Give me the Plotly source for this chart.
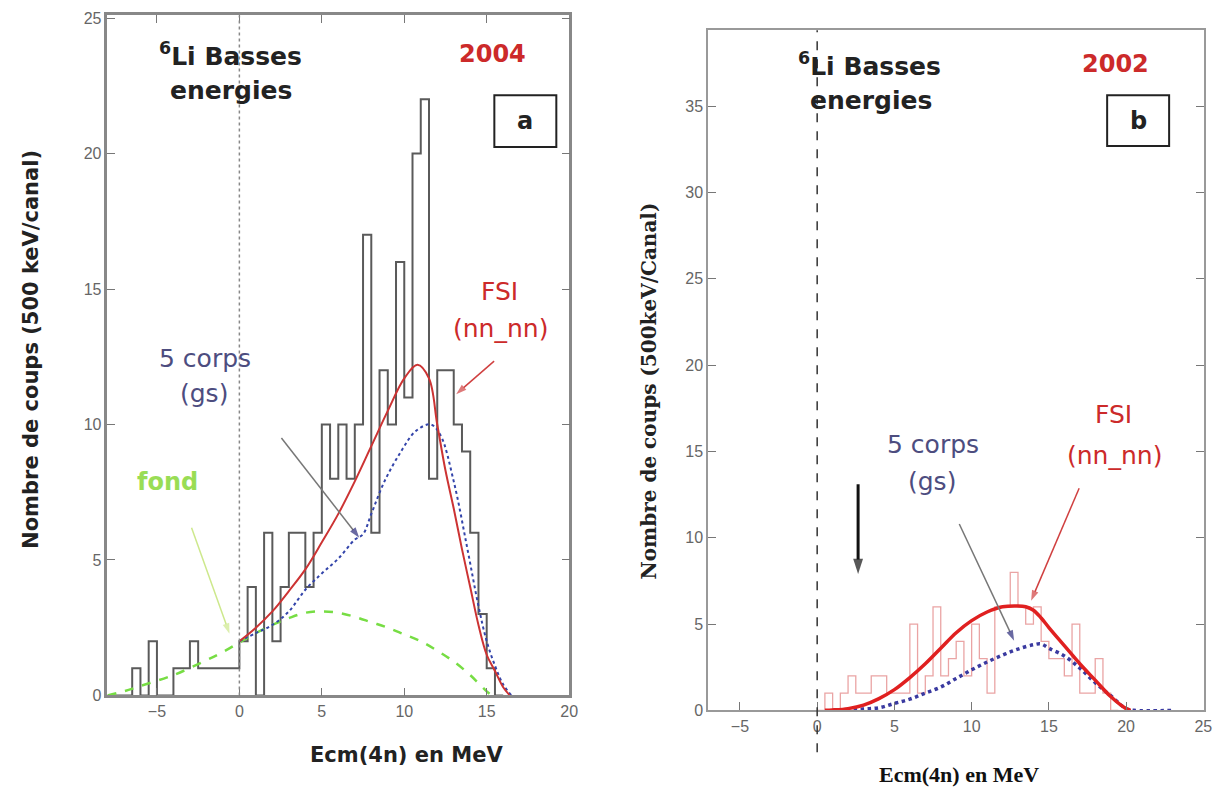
import plotly.graph_objects as go

# ---- panel a : 6Li basses energies, 2004 (500 keV / canal) ----
edges_a = [-8.0, -7.5, -7.0, -6.5, -6.0, -5.5, -5.0, -4.5, -4.0, -3.5, -3.0, -2.5,
           -2.0, -1.5, -1.0, -0.5, 0.0, 0.5, 1.0, 1.5, 2.0, 2.5, 3.0, 3.5,
           4.0, 4.5, 5.0, 5.5, 6.0, 6.5, 7.0, 7.5, 8.0, 8.5, 9.0, 9.5,
           10.0, 10.5, 11.0, 11.5, 12.0, 12.5, 13.0, 13.5, 14.0, 14.5, 15.0, 15.5, 16.0]
counts_a = [0, 0, 0, 1, 0, 2, 0, 0, 1, 1, 2, 1,
            1, 1, 1, 1, 2, 4, 0, 6, 2, 4, 6, 6,
            4, 6, 10, 8, 10, 8, 10, 17, 6, 12, 10, 16,
            11, 20, 22, 8, 12, 12, 10, 9, 6, 3, 1, 0]

fsi_a_x = [0, 1, 2, 3, 4, 5, 6, 7, 8, 9, 10, 10.8, 11.5, 12, 12.5, 13, 13.5, 14, 14.5, 15, 15.5, 16, 16.4]
fsi_a_y = [2.0, 2.5, 3.1, 3.85, 4.65, 5.65, 6.7, 7.9, 9.2, 10.5, 11.7, 12.2, 11.7, 10.0, 8.3, 6.9, 5.4, 4.0, 2.6, 1.5, 0.9, 0.3, 0]

corps_a_x = [0, 1, 2, 3, 4, 5, 6, 7, 7.5, 8, 8.8, 9.8, 10.7, 11.6, 12.2, 13, 13.8, 14.5, 15, 15.5, 16, 16.5]
corps_a_y = [2.0, 2.3, 2.6, 3.1, 3.9, 4.5, 5.05, 5.75, 5.95, 6.7, 7.9, 9.0, 9.76, 10.0, 9.6, 7.9, 5.5, 3.3, 2.0, 1.1, 0.4, 0]

fond_x = [-8, -7, -6, -4, -2, -1, 0, 1, 2, 3, 4, 5, 6, 7, 8, 9, 10, 11, 12, 13, 14, 14.5, 15, 15.3]
fond_y = [0, 0.15, 0.35, 0.75, 1.3, 1.6, 1.95, 2.3, 2.6, 2.85, 3.05, 3.1, 3.05, 2.9, 2.7, 2.5, 2.25, 2.0, 1.65, 1.25, 0.75, 0.45, 0.15, 0]

# ---- panel b : 6Li basses energies, 2002 ----
edges_b = [0.0, 0.5, 1.0, 1.5, 2.0, 2.5, 3.0, 3.5, 4.0, 4.5, 5.0, 5.5, 6.0, 6.5,
           7.0, 7.5, 8.0, 8.5, 9.0, 9.5, 10.0, 10.5, 11.0, 11.5, 12.0, 12.5, 13.0,
           13.5, 14.0, 14.5, 15.0, 15.5, 16.0, 16.5, 17.0, 17.5, 18.0, 18.5, 19.0, 19.5]
counts_b = [0, 1, 0, 1, 2, 1, 1, 2, 2, 1, 1, 1, 5, 1,
            2, 6, 2, 3, 4, 2, 5, 3, 1, 6, 6, 8, 6,
            5, 6, 4, 3, 3, 2, 5, 1, 1, 3, 1, 0]

fsi_b_x = [0.5, 1, 2, 3, 4, 5, 6, 7, 8, 9, 10, 11, 12, 13, 13.5, 14, 14.5, 15, 16, 17, 18, 19, 20, 20.3]
fsi_b_y = [0, 0.02, 0.1, 0.3, 0.68, 1.2, 1.9, 2.7, 3.6, 4.5, 5.2, 5.7, 6.0, 6.05, 6.0, 5.8, 5.35, 4.8, 3.75, 2.7, 1.75, 0.8, 0.1, 0]

corps_b_x = [1, 2, 3, 4, 5, 6, 7, 8, 9, 10, 11, 12, 13, 14, 14.5, 15, 16, 17, 18, 19, 20, 20.5, 23]
corps_b_y = [0, 0.03, 0.08, 0.15, 0.4, 0.65, 1.0, 1.35, 1.85, 2.35, 2.8, 3.2, 3.55, 3.8, 3.85, 3.6, 3.15, 2.45, 1.6, 0.85, 0.1, 0, 0]

# pointer arrows: (x from, y from, x to, y to) in data units of each panel
arrows_a = {"corps": (2.55, 9.5, 7.27, 5.82), "fsi": (15.45, 12.34, 13.15, 11.12), "fond": (-2.9, 6.19, -0.6, 2.28)}
arrows_b = {"corps": (9.2, 10.8, 12.75, 4.04), "fsi": (16.96, 12.87, 13.85, 6.35), "seuil": (2.65, 13.1, 2.65, 7.9)}

W, H = 1230, 796
SANS = "DejaVu Sans"
RED = "#cc2a2a"
BLUE_TXT = "#4d4d7f"


# the page comes out slightly shrunk, so lay out in corrected pixel positions
def X(px):
    return (px + 1.5) / 0.993


def Y(py):
    return (py - 3.6) / 0.984


def step(edges, counts):
    return edges, counts + [0]


fig = go.Figure()

hx, hy = step(edges_a, counts_a)
fig.add_trace(go.Scatter(x=hx, y=hy, mode="lines", line=dict(shape="hv", color="#5a5a5a", width=2),
                         xaxis="x", yaxis="y"))
fig.add_trace(go.Scatter(x=fond_x, y=fond_y, mode="lines", line=dict(color="#77dd44", width=2.5, dash="dash", shape="spline"),
                         xaxis="x", yaxis="y"))
fig.add_trace(go.Scatter(x=corps_a_x, y=corps_a_y, mode="lines", line=dict(color="#3344aa", width=2, dash="dot", shape="spline"),
                         xaxis="x", yaxis="y"))
fig.add_trace(go.Scatter(x=fsi_a_x, y=fsi_a_y, mode="lines", line=dict(color="#cc3333", width=2, shape="spline"),
                         xaxis="x", yaxis="y"))

hx, hy = step(edges_b, counts_b)
fig.add_trace(go.Scatter(x=hx, y=hy, mode="lines", line=dict(shape="hv", color="#eaa4a4", width=1.3),
                         xaxis="x2", yaxis="y2"))
fig.add_trace(go.Scatter(x=corps_b_x, y=corps_b_y, mode="lines", line=dict(color="#3a3aa0", width=3.5, dash="dot", shape="spline"),
                         xaxis="x2", yaxis="y2"))
fig.add_trace(go.Scatter(x=fsi_b_x, y=fsi_b_y, mode="lines", line=dict(color="#e02020", width=3.5, shape="spline"),
                         xaxis="x2", yaxis="y2"))


def add_arrow(pts, xa, ya, color, width=1.5, head=11, headcolor=None):
    x0, y0, x1, y1 = pts
    fig.add_trace(go.Scatter(
        x=[x0, x1], y=[y0, y1], mode="lines+markers", xaxis=xa, yaxis=ya,
        line=dict(color=color, width=width),
        marker=dict(symbol="arrow", angleref="previous", size=[0, head],
                    color=headcolor or color, line=dict(width=0))))


add_arrow(arrows_a["corps"], "x", "y", "#777", headcolor="#2a2a7a")
add_arrow(arrows_a["fsi"], "x", "y", "#d04040")
add_arrow(arrows_a["fond"], "x", "y", "#cde88c")
add_arrow(arrows_b["corps"], "x2", "y2", "#777", headcolor="#2a2a7a")
add_arrow(arrows_b["fsi"], "x2", "y2", "#d04040")
add_arrow(arrows_b["seuil"], "x2", "y2", "#111", width=3, head=16)

axis_common = dict(showgrid=False, zeroline=False, showline=True,
                   ticks="inside", ticklen=8, tickcolor="#777", dtick=5,
                   tickfont=dict(family="Liberation Sans", size=16, color="#666"))

fig.update_layout(
    width=W, height=H, margin=dict(l=0, r=0, t=0, b=0),
    paper_bgcolor="white", plot_bgcolor="white", showlegend=False,
    xaxis=dict(domain=[X(106) / W, X(568) / W], range=[-8, 20.01], anchor="y", mirror="ticks",
               linecolor="#888", linewidth=2.5, **axis_common),
    yaxis=dict(domain=[1 - Y(695) / H, 1 - Y(13) / H], range=[0, 25.1], anchor="x", mirror="ticks",
               linecolor="#888", linewidth=2.5, **axis_common),
    xaxis2=dict(domain=[X(707) / W, X(1203) / W], range=[-7.05, 25.05], anchor="y2", mirror=True,
                linecolor="#999", linewidth=2, **axis_common),
    yaxis2=dict(domain=[1 - Y(710) / H, 1 - Y(28) / H], range=[0, 39.4], anchor="x2", mirror="ticks",
                linecolor="#999", linewidth=2, **axis_common),
)


def note(px, py, text, size, color, family=SANS, angle=0):
    return dict(xref="paper", yref="paper", x=X(px) / W, y=1 - Y(py) / H, text=text, showarrow=False,
                xanchor="center", yanchor="middle", textangle=angle,
                font=dict(family=family, size=size, color=color))


annotations = [
    # panel a
    note(229, 52, "<b><sup>6</sup>Li Basses</b>", 25, "#222"),
    note(230, 88, "<b>energies</b>", 25, "#222"),
    note(491, 52, "<b>2004</b>", 24, RED),
    note(524, 119, "<b>a</b>", 24, "#222"),
    note(498, 290, "FSI", 25, RED),
    note(499, 327, "(nn_nn)", 25, RED),
    note(204, 357, "5 corps", 25, BLUE_TXT),
    note(203, 392, "(gs)", 25, BLUE_TXT),
    note(166, 481, "<b>fond</b>", 24, "#99dd55"),
    note(30, 348, "<b>Nombre de coups (500 keV/canal)</b>", 21, "#222", angle=-90),
    note(405, 755, "<b>Ecm(4n) en MeV</b>", 21, "#222"),
    # panel b
    note(868, 62, "<b><sup>6</sup>Li Basses</b>", 25, "#222"),
    note(870, 98, "<b>energies</b>", 25, "#222"),
    note(1114, 62, "<b>2002</b>", 24, RED),
    note(1137, 119, "<b>b</b>", 24, "#222"),
    note(932, 443, "5 corps", 25, BLUE_TXT),
    note(931, 480, "(gs)", 25, BLUE_TXT),
    note(1112, 413, "FSI", 25, RED),
    note(1113, 454, "(nn_nn)", 25, RED),
    note(648, 390, "<b>Nombre de coups (500keV/Canal)</b>", 20, "#222", family="DejaVu Serif", angle=-90),
    note(958, 774, "<b>Ecm(4n) en MeV</b>", 22, "#111", family="Liberation Serif"),
]

shapes = [
    dict(type="line", xref="x", yref="y", x0=0, x1=0, y0=0, y1=25.1,
         line=dict(color="#888", width=1.5, dash="dot")),
    dict(type="line", xref="x2", yref="paper", x0=0, x1=0, y0=1 - Y(752) / H, y1=1 - Y(28) / H,
         line=dict(color="#333", width=1.5, dash="dash")),
    dict(type="rect", xref="paper", yref="paper", x0=X(493) / W, x1=X(555) / W, y0=1 - Y(145) / H, y1=1 - Y(93) / H,
         line=dict(color="#222", width=2)),
    dict(type="rect", xref="paper", yref="paper", x0=X(1106) / W, x1=X(1168) / W, y0=1 - Y(144) / H, y1=1 - Y(93) / H,
         line=dict(color="#222", width=2)),
]

fig.update_layout(annotations=annotations, shapes=shapes)
page_fix = ("document.documentElement.style.overflow='hidden';"
            "document.body.style.margin='0';document.body.style.overflow='hidden';")
fig.write_html("out.html", config={"displayModeBar": False}, post_script=page_fix)
